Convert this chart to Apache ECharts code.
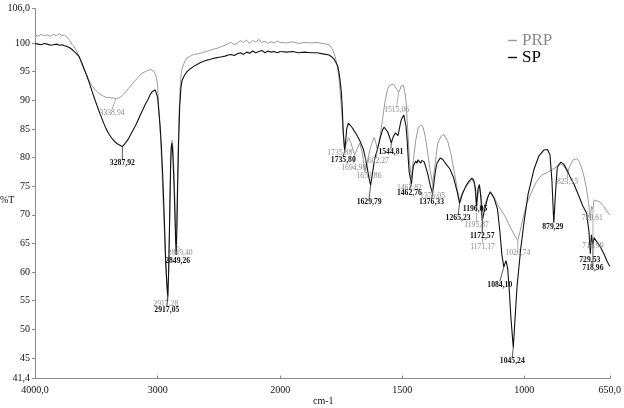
<!DOCTYPE html>
<html>
<head>
<meta charset="utf-8">
<script src="https://cdn.jsdelivr.net/npm/echarts@6.0.0/dist/echarts.min.js"></script>
<style>html,body{margin:0;padding:0;background:#fff}#c{width:624px;height:408px}</style>
</head>
<body>
<div id="c"></div>
<script>
// ---- data (wavenumber cm-1, %T) ----
const prpWave = [4000,3975,3950,3925,3900,3875,3850,3825,3800,3780,3760,3745,3730,3715,3700,3680,3660,3640,3620,3600,3580,3560,3540,3520,3500,3480,3460,3440,3420,3400,3380,3360,3338.94,3320,3300,3280,3260,3240,3220,3200,3180,3160,3140,3120,3100,3080,3060,3045,3030,3020,3010,3000,2995,2985,2975,2965,2955,2945,2935,2925,2917.28,2910,2903,2897,2893,2888,2883,2878,2873,2866,2860,2855,2849.4,2844,2838,2832,2825,2815,2805,2790,2775,2760,2740,2720,2700,2675,2650,2625,2600,2575,2550,2525,2500,2475,2450,2425,2400,2375,2350,2325,2300,2275,2250,2225,2200,2175,2150,2125,2100,2075,2050,2025,2000,1975,1950,1925,1900,1875,1850,1825,1800,1785,1775,1767,1760,1755,1750,1746,1742,1735.88,1730,1720,1710,1700,1694.98,1685,1675,1665,1658,1652.86,1646,1640,1632,1625,1615,1608,1602.27,1596,1590,1580,1570,1560,1552,1545,1537,1530,1520,1515.06,1510,1505,1495,1490,1485,1478,1470,1462.82,1455,1445,1435,1425,1415,1405,1395,1385,1376.05,1365,1355,1340,1330,1315,1300,1285,1275,1265,1255,1240,1228,1215,1205,1200,1195.87,1190,1183,1177,1171.17,1164,1150,1140,1125,1110,1095,1080,1065,1050,1035,1026.74,1018,1005,990,970,950,930,910,890,870,855,840,830,823.15,815,800,785,775,765,755,745,737,729.61,725,718.99,714,700,690,675,660,650];
const prpT = [101.4,101.2,101.5,101.3,101.4,101.2,101.5,101.3,101.6,101.3,101.4,101.1,100.8,100.4,99.8,99.3,98.6,97.6,96.5,95.4,94.5,93.5,92.7,92.1,91.6,91.2,90.9,90.7,90.5,90.5,90.4,90.4,90.3,90.4,90.6,91.0,91.5,92.0,92.5,93.0,93.5,94.0,94.5,94.8,95.0,95.2,95.4,95.3,95.0,94.6,94.0,92.5,90,86.5,83,78,72,67,62,57.5,55.2,60,68,75,79,82,83,82.5,81,77,73,68.5,64.8,69,76,82,88,93,95.2,96.2,96.9,97.4,97.6,97.9,98.0,98.1,98.2,98.4,98.5,98.7,98.9,99.0,99.2,99.4,99.6,99.9,100.1,99.7,100.0,100.4,100.1,100.5,99.9,100.4,100.2,100.6,100.1,100.3,99.9,100.2,100.0,100.3,100.1,100.0,100.2,99.9,100.1,100.0,100.1,99.9,99.7,98.8,97.6,96,94,91.5,89,86.5,84,81.5,82.3,83.5,82.5,81.0,80.5,81.5,82.5,81,79,77.5,78.5,80,81.5,82.5,83.5,82.5,81.5,82.5,84,87,90,92.0,92.6,92.7,92.8,92.5,91.8,91.4,91.8,92.5,92.6,91.5,90,85,79,76.4,79.5,83,85.2,85.7,85.3,83.5,80.5,77.5,75.5,79,82.5,83.8,84.0,83.0,80.5,77,74.5,72.5,73.8,74.8,75.5,76.2,75.5,73.5,70.8,73.5,74.8,73,70.5,71.5,73.2,74.0,73.2,71.8,70.8,69.8,68.5,67.2,66.0,65.5,67,69.5,72,74,75.8,76.9,77.3,77.8,78.3,79.0,78.6,78.0,77.3,78.4,79.6,79.8,79.3,78.2,76.6,74.5,72.2,69.0,71.5,71.0,72.6,72.4,72.2,71.5,70.5,70.0];

const spWave = [4000,3975,3950,3925,3900,3875,3850,3825,3800,3780,3760,3740,3720,3700,3680,3660,3640,3620,3600,3580,3560,3540,3520,3500,3480,3460,3440,3420,3400,3375,3350,3330,3310,3287.92,3275,3260,3240,3220,3200,3180,3160,3140,3120,3100,3080,3060,3045,3030,3020,3010,3000,2990,2980,2970,2960,2950,2942,2935,2925,2917.05,2910,2905,2900,2895,2890,2885,2880,2875,2868,2862,2856,2849.26,2843,2838,2830,2820,2810,2800,2780,2760,2740,2720,2700,2675,2650,2625,2600,2575,2550,2525,2500,2475,2450,2425,2400,2375,2350,2325,2300,2275,2250,2225,2200,2175,2150,2125,2100,2075,2050,2025,2000,1975,1950,1925,1900,1875,1850,1825,1800,1790,1780,1772,1765,1760,1755,1750,1746,1742,1738,1735.8,1732,1728,1721,1713,1705,1698,1690,1675,1660,1652,1645,1637,1629.79,1623,1618,1612,1605,1597,1590,1582,1575,1567,1560,1552,1544.81,1540,1535,1528,1522,1518,1514,1510,1505,1500,1494,1490,1485,1480,1476,1472,1462.76,1455,1445,1440,1435,1430,1425,1420,1415,1410,1405,1395,1385,1376.33,1372,1368,1363,1358,1345,1335,1320,1305,1290,1275,1265.23,1255,1240,1228,1215,1207,1200,1196.05,1190,1184,1178,1172.57,1165,1150,1140,1125,1110,1100,1092,1084.1,1075,1068,1062,1055,1045.24,1038,1030,1015,1000,985,960,940,920,905,895,887,879.29,872,865,850,838,825,810,795,775,760,745,735,729.53,725,718.96,714,705,690,675,660,650];
const spT = [99.9,99.8,99.7,99.9,99.8,99.6,99.7,99.8,99.6,99.7,99.5,99.4,99.2,98.9,98.5,98.1,97.6,96.6,95.5,94.4,93.2,91.9,90.6,89.4,88.2,87.1,86.0,85.0,84.2,83.4,82.8,82.4,82.2,81.9,82.1,82.6,83.2,84.0,84.8,85.6,86.5,87.5,88.4,89.3,90.1,91.0,91.5,91.8,91.8,91.5,90.5,88,85.5,82,77.5,72,67,62,58,55.8,60.5,66,72,78,81.5,82.5,81.8,80,76,72,67.5,63,67.5,74,82,89,92.2,93.5,94.4,95.0,95.4,95.7,96.0,96.3,96.6,96.8,97.0,97.1,97.3,97.4,97.5,97.6,97.7,97.9,98.0,97.8,98.1,98.3,98.0,98.4,98.2,98.6,98.3,98.5,98.7,98.3,98.6,98.4,98.5,98.3,98.5,98.4,98.5,98.3,98.4,98.3,98.3,98.1,97.9,97.6,97.2,96.6,96.0,95.0,93.5,91.5,88.5,84.5,82,81.3,83,85,86.0,85.7,85.2,84.7,84.2,83.0,81.5,80,78.5,76.5,75.2,77,78.5,80,81,82.3,83.5,84.7,85.3,85.0,84.5,83.5,82.5,83.3,83.8,84.3,84,83.8,84.6,85.5,86.5,87.0,87.4,87.2,85.5,83,80,77.5,75.4,78.5,79.4,79.0,79.6,79.5,79.0,79.5,79.8,79.2,78.5,77.0,75.0,73.8,75,76.5,78,79.0,79.9,79.7,78.8,78.0,76.5,74.0,72.0,73.5,75.0,75.8,76.4,76.0,74.5,71.5,74.5,75.3,73,68.9,70.5,73,74.0,73.0,71.0,67,63,60.9,62,60.5,57,52,46.8,52,57.4,64,69.1,73.5,78,80.3,81.3,81.4,80.5,76,68.6,74,78.3,79.2,78.8,77.8,76.4,75.2,73.1,71.5,70.3,67,63.2,66.5,64.8,66,65.4,64.5,63.3,61.8,61.0];

// peak annotations
const prpPeaks = [3338.94,2917.28,2849.4,1735.88,1694.98,1652.86,1602.27,1515.06,1462.82,1376.05,1195.87,1171.17,1026.74,823.15,729.61,718.99];
const prpPeakLabels = ['3338,94','2917,28','2849,40','1735,88','1694,98','1652,86','1602,27','1515,06','1462,82','1376,05','1195,87','1171,17','1026,74','823,15','729,61','718,99'];
const spPeaks = [3287.92,2917.05,2849.26,1735.8,1629.79,1544.81,1462.76,1376.33,1265.23,1196.05,1172.57,1084.1,1045.24,879.29,729.53,718.96];
const spPeakLabels = ['3287,92','2917,05','2849,26','1735,80','1629,79','1544,81','1462,76','1376,33','1265,23','1196,05','1172,57','1084,10','1045,24','879,29','729,53','718,96'];

// label offsets in px (style only)
const prpLabelOffsets = [[-4,14],[-2,4],[4,8],[-5,4],[-1,13],[4,4],[-1,12],[-2,18],[-2,10],[0,13],[0,15],[0,35],[0,12],[0,9],[2,-3],[0,37]];
const spLabelOffsets = [[0,16],[-1,14],[1.5,6],[-1.5,10],[-1.5,17],[-0.5,9],[-2,9],[-1,9],[-1.5,15],[-1.5,3],[0,15],[-4,18],[-1,13],[-1,4],[-0.5,6],[0,23]];

const xTicksLeft = [4000,3000,2000];
const xTicksRight = [1500,1000,650];
const yTicks = [41.4,45,50,55,60,65,70,75,80,85,90,95,100,106];

// ---- chart ----
const FONT = 'Liberation Serif';
const PRP_COLOR = '#9a9a9a';
const SP_COLOR = '#111111';
const AXIS_COLOR = '#8a8a8a';

function pairs(wave, t, left) {
  const out = [];
  for (let i = 0; i < wave.length; i++) {
    if (left ? wave[i] >= 2000 : wave[i] <= 2000) out.push([wave[i], t[i]]);
  }
  return out;
}
function tAt(wave, t, w) {
  const i = wave.indexOf(w);
  return t[i];
}
function annoData(peaks, wave, t, left) {
  const out = [];
  peaks.forEach((w, i) => {
    if (left ? w > 2000 : w <= 2000) out.push([w, tAt(wave, t, w), i]);
  });
  return out;
}
function annoSeries(peaks, labels, offsets, wave, t, left, color, bold) {
  return {
    type: 'custom',
    xAxisIndex: left ? 0 : 1,
    yAxisIndex: left ? 0 : 1,
    silent: true,
    z: 5,
    data: annoData(peaks, wave, t, left),
    renderItem: function (params, api) {
      const w = api.value(0), tv = api.value(1), idx = api.value(2);
      const p = api.coord([w, tv]);
      const off = offsets[idx];
      const lx = p[0] + off[0], ly = p[1] + off[1];
      const children = [];
      if (off[1] > 7) {
        children.push({
          type: 'line',
          shape: { x1: p[0], y1: p[1], x2: lx, y2: ly - 3.5 },
          style: { stroke: color, lineWidth: 0.7 }
        });
      }
      children.push({
        type: 'text',
        style: {
          x: lx, y: ly, text: labels[idx],
          fill: color, font: (bold ? 'bold ' : '') + '7.7px "' + FONT + '"',
          align: 'center', verticalAlign: 'middle'
        }
      });
      return { type: 'group', children: children };
    }
  };
}

const lineBase = { type: 'line', showSymbol: false, symbol: 'none', silent: true, animation: false };

const gridTop = 8.6, gridH = 370;
const option = {
  animation: false,
  grid: [
    { left: 35, top: gridTop, width: 245.3, height: gridH },
    { left: 280.3, top: gridTop, width: 333, height: gridH }
  ],
  legend: {
    orient: 'vertical', left: 503, top: 27, itemGap: 0,
    icon: 'rect', itemWidth: 9, itemHeight: 1.4,
    textStyle: { fontFamily: FONT, fontSize: 17 },
    data: [
      { name: 'PRP', textStyle: { color: '#8a8a8a' } },
      { name: 'SP', textStyle: { color: '#000' } }
    ],
    selectedMode: false
  },
  xAxis: [
    {
      type: 'value', gridIndex: 0, inverse: true, min: 2000, max: 4000,
      splitLine: { show: false },
      axisLine: { lineStyle: { color: AXIS_COLOR, width: 1 } },
      axisTick: { customValues: xTicksLeft, inside: true, length: 3, lineStyle: { color: AXIS_COLOR } },
      axisLabel: {
        customValues: xTicksLeft, margin: 7, color: '#111', fontFamily: FONT, fontSize: 10,
        formatter: v => v === 4000 ? '4000,0' : String(v)
      }
    },
    {
      type: 'value', gridIndex: 1, inverse: true, min: 650, max: 2000,
      splitLine: { show: false },
      axisLine: { lineStyle: { color: AXIS_COLOR, width: 1 } },
      axisTick: { customValues: xTicksRight, inside: true, length: 3, lineStyle: { color: AXIS_COLOR } },
      axisLabel: {
        customValues: xTicksRight, margin: 7, color: '#111', fontFamily: FONT, fontSize: 10,
        formatter: v => v === 650 ? '650,0' : String(v)
      }
    }
  ],
  yAxis: [
    {
      type: 'value', gridIndex: 0, min: 41.4, max: 106,
      splitLine: { show: false },
      axisLine: { show: true, lineStyle: { color: AXIS_COLOR, width: 1 } },
      axisTick: { show: true, customValues: yTicks, length: 3, lineStyle: { color: AXIS_COLOR } },
      axisLabel: {
        customValues: yTicks, margin: 5, color: '#111', fontFamily: FONT, fontSize: 10,
        formatter: v => v === 41.4 ? '41,4' : (v === 106 ? '106,0' : String(v))
      }
    },
    {
      type: 'value', gridIndex: 1, min: 41.4, max: 106, show: false,
      splitLine: { show: false }
    }
  ],
  graphic: [
    { type: 'text', left: 313, top: 396, style: { text: 'cm-1', fill: '#111', font: '10px "' + FONT + '"' } },
    { type: 'text', left: 0, top: 195, style: { text: '%T', fill: '#111', font: '10px "' + FONT + '"' } }
  ],
  series: [
    Object.assign({}, lineBase, { name: 'PRP', xAxisIndex: 0, yAxisIndex: 0, data: pairs(prpWave, prpT, true), itemStyle: { color: PRP_COLOR }, lineStyle: { color: PRP_COLOR, width: 1 } }),
    Object.assign({}, lineBase, { name: 'PRP', xAxisIndex: 1, yAxisIndex: 1, data: pairs(prpWave, prpT, false), itemStyle: { color: PRP_COLOR }, lineStyle: { color: PRP_COLOR, width: 1 } }),
    Object.assign({}, lineBase, { name: 'SP', xAxisIndex: 0, yAxisIndex: 0, data: pairs(spWave, spT, true), itemStyle: { color: SP_COLOR }, lineStyle: { color: SP_COLOR, width: 1.1 } }),
    Object.assign({}, lineBase, { name: 'SP', xAxisIndex: 1, yAxisIndex: 1, data: pairs(spWave, spT, false), itemStyle: { color: SP_COLOR }, lineStyle: { color: SP_COLOR, width: 1.1 } }),
    annoSeries(prpPeaks, prpPeakLabels, prpLabelOffsets, prpWave, prpT, true, '#8a8a8a', false),
    annoSeries(prpPeaks, prpPeakLabels, prpLabelOffsets, prpWave, prpT, false, '#8a8a8a', false),
    annoSeries(spPeaks, spPeakLabels, spLabelOffsets, spWave, spT, true, '#111', true),
    annoSeries(spPeaks, spPeakLabels, spLabelOffsets, spWave, spT, false, '#111', true)
  ]
};

const chart = echarts.init(document.getElementById('c'), null, { renderer: 'canvas' });
chart.setOption(option);
</script>
</body>
</html>
